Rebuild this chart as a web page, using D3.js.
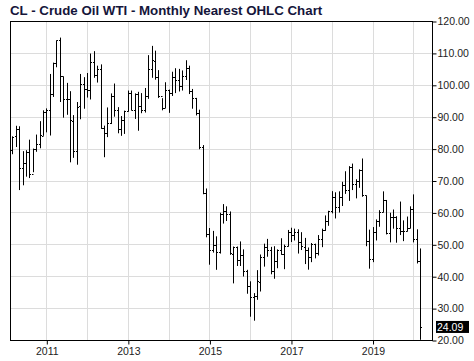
<!DOCTYPE html>
<html>
<head>
<meta charset="utf-8">
<script src="https://cdn.jsdelivr.net/npm/d3@7"></script>
<style>
  body { margin: 0; background: #fff; }
  text { font-family: Arial, "Liberation Sans", sans-serif; }
</style>
</head>
<body>
<svg id="chart" width="474" height="361"></svg>
<script>
// monthly bars, March 2010 .. March 2020
const startYear = 2010;
const startMonth = 2; // 0-based, March

const opens = [
  79.6, 83.8, 86.1, 74.0, 75.6, 78.9, 71.9, 80.0, 81.4, 84.1,
  91.4, 92.2, 97.0, 106.7, 113.9, 102.7, 95.4, 95.7, 88.8, 79.2, 93.2, 100.4,
  98.8, 98.5, 107.1, 103.0, 104.9, 86.5, 85.0, 88.1, 96.5, 92.2, 86.2, 88.9,
  91.8, 97.5, 92.0, 97.2, 93.5, 92.0, 96.6, 105.0, 107.6, 102.3, 96.4, 92.7,
  98.4, 97.5, 102.6, 101.6, 99.7, 102.7, 105.4, 98.2, 96.0, 91.2, 80.5, 66.2,
  53.3, 48.2, 49.8, 47.6, 59.6, 60.3, 59.5, 47.1, 49.2, 45.1, 46.6, 41.7,
  37.0, 33.6, 33.8, 38.3, 45.9, 49.1, 48.3, 41.6, 44.7, 48.2, 46.9, 49.4,
  53.7, 52.8, 54.0, 50.6, 49.3, 48.3, 46.0, 50.2, 47.2, 51.7, 54.4, 57.4,
  60.4, 64.7, 61.6, 64.9, 68.6, 67.0, 74.2, 68.8, 69.8, 73.3, 65.3, 50.9,
  45.4, 53.8, 57.2, 60.1, 63.9, 53.5, 58.5, 58.6, 55.1, 54.1, 54.2, 55.2,
  61.1, 51.6, 44.8
];
const highs = [
  83.85, 87.15, 87.0, 79.2, 79.5, 82.8, 80.0, 84.4, 88.6, 92.0,
  92.6, 103.4, 106.95, 113.9, 114.8, 102.6, 100.6, 98.0, 90.5, 94.6, 103.4, 102.4,
  103.7, 109.8, 110.55, 106.0, 106.4, 87.2, 92.9, 97.3, 100.4, 93.0, 90.2, 91.9,
  98.2, 98.2, 97.3, 97.8, 97.4, 99.0, 109.3, 112.2, 110.7, 104.6, 95.8, 100.8,
  98.5, 104.1, 105.2, 104.99, 104.5, 107.7, 106.0, 98.7, 95.9, 92.2, 81.1, 67.5,
  55.1, 54.2, 52.5, 59.9, 62.6, 61.9, 60.3, 49.3, 49.3, 50.9, 48.4, 42.0,
  38.4, 34.7, 41.9, 46.8, 50.2, 51.7, 49.2, 49.4, 48.4, 51.9, 49.9, 54.5,
  55.2, 54.9, 54.7, 53.8, 52.0, 49.0, 50.4, 50.2, 52.9, 54.9, 59.05, 60.5,
  66.66, 66.3, 66.6, 69.6, 72.9, 74.5, 75.3, 70.4, 73.5, 76.9, 65.3, 54.6,
  55.4, 57.8, 60.7, 66.6, 63.9, 59.9, 60.9, 58.8, 63.4, 57.5, 58.7, 61.9,
  65.65, 54.7, 48.7
];
const lows = [
  78.24, 80.5, 67.0, 68.5, 71.2, 70.76, 72.6, 79.0, 80.1, 84.0,
  85.1, 84.1, 96.2, 105.5, 94.6, 89.7, 90.6, 75.7, 77.1, 74.95, 89.2, 92.5,
  96.0, 95.4, 102.2, 100.7, 86.2, 77.3, 83.6, 87.7, 90.0, 84.8, 84.0, 84.6,
  91.6, 92.0, 89.3, 85.6, 91.1, 91.3, 95.6, 102.2, 101.6, 95.9, 92.0, 92.7,
  91.2, 96.5, 97.4, 97.9, 98.2, 101.5, 97.1, 92.5, 90.4, 79.8, 65.7, 52.2,
  43.6, 47.4, 42.0, 47.1, 56.5, 57.3, 46.7, 37.75, 43.2, 43.2, 39.9, 34.5,
  27.3, 26.05, 32.6, 35.2, 43.0, 46.1, 40.6, 39.2, 42.5, 46.7, 42.2, 49.3,
  50.7, 51.2, 47.1, 48.2, 43.8, 42.05, 44.4, 45.6, 46.5, 49.1, 54.2, 55.8,
  59.7, 58.1, 59.95, 62.0, 65.8, 63.6, 67.0, 64.4, 67.7, 64.9, 49.4, 42.36,
  44.4, 51.2, 55.5, 60.0, 53.1, 50.6, 54.9, 50.5, 52.9, 50.99, 54.0, 55.0,
  50.6, 44.0, 20.06
];
const closes = [
  83.76, 86.15, 73.97, 75.63, 78.95, 71.92, 79.97, 81.43, 84.11, 91.38,
  92.19, 96.97, 106.72, 113.93, 102.70, 95.42, 95.70, 88.81, 79.20, 93.19, 100.36, 98.83,
  98.48, 107.07, 103.02, 104.87, 86.53, 84.96, 88.06, 96.47, 92.19, 86.24, 88.91, 91.82,
  97.49, 92.05, 97.23, 93.46, 91.97, 96.56, 105.03, 107.65, 102.33, 96.38, 92.72, 98.42,
  97.49, 102.59, 101.58, 99.74, 102.71, 105.37, 98.17, 95.96, 91.16, 80.54, 66.15, 53.27,
  48.24, 49.76, 47.60, 59.63, 60.30, 59.47, 47.12, 49.20, 45.09, 46.59, 41.65, 37.04,
  33.62, 33.75, 38.34, 45.92, 49.10, 48.33, 41.60, 44.70, 48.24, 46.86, 49.44, 53.72,
  52.81, 54.01, 50.60, 49.33, 48.32, 46.04, 50.17, 47.23, 51.67, 54.38, 57.40, 60.42,
  64.73, 61.64, 64.94, 68.57, 67.04, 74.15, 68.76, 69.80, 73.25, 65.31, 50.93, 45.41,
  53.79, 57.22, 60.14, 63.91, 53.50, 58.47, 58.58, 55.10, 54.07, 54.18, 55.17, 61.06,
  51.56, 44.76, 24.09
];

const priceTicks = [20, 30, 40, 50, 60, 70, 80, 90, 100, 110, 120];
const gridYears = [2011, 2012, 2013, 2014, 2015, 2016, 2017, 2018, 2019, 2020];
const labelYears = [2011, 2013, 2015, 2017, 2019];
const title = "CL - Crude Oil WTI - Monthly Nearest OHLC Chart";
const lastPrice = "24.09";

const bars = opens.map((o, i) => ({
  t: startYear + (startMonth + i) / 12,
  o: o, h: highs[i], l: lows[i], c: closes[i]
}));

const svg = d3.select("#chart");
const plotLeft = 10, plotRight = 432, plotTop = 21, plotBottom = 340;

const x = d3.scaleLinear().domain([2011, 2020]).range([46.3, 413.3]);
const y = d3.scaleLinear().domain([20, 120]).range([plotBottom, plotTop]);
const px = v => Math.round(v) + 0.5;

svg.append("text")
  .attr("x", 10).attr("y", 14.5)
  .attr("font-size", 13.3).attr("font-weight", "bold")
  .attr("fill", "#15153a")
  .text(title);

// grid
svg.append("g").selectAll("line").data(gridYears).join("line")
  .attr("x1", d => px(x(d))).attr("x2", d => px(x(d)))
  .attr("y1", plotTop).attr("y2", plotBottom)
  .attr("stroke", "#dcdcdc");
svg.append("g").selectAll("line").data(priceTicks.slice(1, -1)).join("line")
  .attr("x1", plotLeft).attr("x2", plotRight)
  .attr("y1", d => px(y(d))).attr("y2", d => px(y(d)))
  .attr("stroke", "#dcdcdc");

// frame
svg.append("rect")
  .attr("x", plotLeft + 0.5).attr("y", plotTop + 0.5)
  .attr("width", plotRight - plotLeft).attr("height", plotBottom - plotTop)
  .attr("fill", "none").attr("stroke", "#000");

// bars
const g = svg.append("g").attr("stroke", "#000").attr("stroke-width", 1);
bars.forEach(b => {
  const cx = px(x(b.t));
  const yl = Math.min(y(b.l), plotBottom);
  g.append("line").attr("x1", cx).attr("x2", cx).attr("y1", y(b.h)).attr("y2", yl);
  g.append("line").attr("x1", cx - 1.5).attr("x2", cx).attr("y1", px(y(b.o))).attr("y2", px(y(b.o)));
  g.append("line").attr("x1", cx).attr("x2", cx + 1.5).attr("y1", px(y(b.c))).attr("y2", px(y(b.c)));
});

// right axis
const yAxis = d3.axisRight(y).tickValues(priceTicks)
  .tickFormat(d3.format(".2f")).tickSize(4).tickPadding(1);
svg.append("g").attr("transform", `translate(${plotRight + 0.5},0.5)`).call(yAxis)
  .call(s => s.select(".domain").remove())
  .call(s => s.selectAll("text").attr("font-size", 10.5).attr("fill", "#222")
    .attr("font-family", "Arial, 'Liberation Sans', sans-serif"));

// bottom axis
const xAxis = d3.axisBottom(x).tickValues(labelYears)
  .tickFormat(d3.format("d")).tickSize(4).tickPadding(3);
svg.append("g").attr("transform", `translate(0.5,${plotBottom + 0.5})`).call(xAxis)
  .call(s => s.select(".domain").remove())
  .call(s => s.selectAll("text").attr("font-size", 10.5).attr("fill", "#222")
    .attr("font-family", "Arial, 'Liberation Sans', sans-serif"));

// last price marker
const ly = y(+lastPrice);
svg.append("rect")
  .attr("x", plotRight + 4).attr("y", ly - 6)
  .attr("width", 33).attr("height", 12).attr("fill", "#000");
svg.append("text")
  .attr("x", plotRight + 5).attr("y", ly).attr("dy", "0.35em")
  .attr("font-size", 10.5).attr("fill", "#fff")
  .text(lastPrice);
</script>
</body>
</html>
